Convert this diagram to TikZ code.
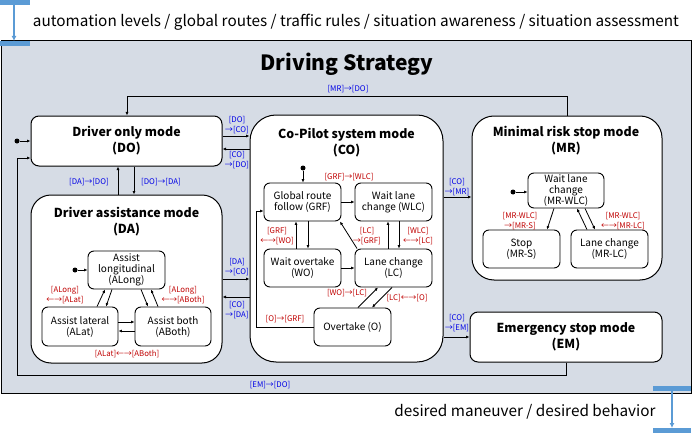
\documentclass[tikz,border=0pt]{standalone}
\usepackage{fontspec}
\setmainfont{Noto Sans CJK KR}
\usetikzlibrary{arrows.meta,calc}
\definecolor{panel}{HTML}{D6DCE5}
\definecolor{lblue}{HTML}{0000E6}
\definecolor{lred}{HTML}{C00000}
\definecolor{barblue}{HTML}{5B9BD5}
\begin{document}
\begin{tikzpicture}[x=1pt,y=-1pt,
  sub/.style={draw, fill=white, line width=0.9pt, rounded corners=6pt, inner sep=0pt, align=center, font=\fontsize{10}{11}\selectfont},
  mode/.style={draw, fill=white, line width=1pt, inner sep=0pt, align=center, font=\bfseries\fontsize{12.4}{16}\selectfont},
  ttl/.style={align=center, inner sep=0pt, font=\bfseries\fontsize{12.4}{16}\selectfont},
  arr/.style={-{Latex[length=3.5pt,width=3pt]}, line width=0.8pt},
  ln/.style={line width=0.8pt},
  bl/.style={text=lblue, inner sep=0pt, align=center, font=\fontsize{7.8}{9.2}\selectfont},
  rl/.style={text=lred, inner sep=0pt, align=center, font=\fontsize{7.8}{9.2}\selectfont},
  dot/.style={circle, fill=black, inner sep=0pt, minimum size=5pt},
  bar/.style={fill=barblue, inner sep=0pt, minimum height=5pt, anchor=north west},
  barline/.style={draw=barblue, line width=1.5pt, -{Latex[length=5pt,width=5pt]}},
  big/.style={inner sep=0pt, font=\fontsize{15.3}{18}\selectfont}]
\useasboundingbox (0,0) rectangle (694,436);

% panel
\node[draw, fill=panel, line width=1pt, inner sep=0pt, minimum width=690pt, minimum height=353pt, anchor=north west] (panel) at (0.5,40) {};
\node[inner sep=0pt, font=\bfseries\fontsize{21}{24}\selectfont] (title) at (347,64) {Driving Strategy};

% I/O bars
\node[big] (intext) at (356,22) {automation levels / global routes / traffic rules / situation awareness / situation assessment};
\node[bar, minimum width=30pt] (bt1) at (0,0) {};
\node[bar, minimum width=30pt] (bt2) at (0,41) {};
\draw[barline] (bt1.south -| 14,0) -- (bt2.north -| 14,0);
\node[big] (outtext) at (525,412) {desired maneuver / desired behavior};
\node[bar, minimum width=38pt] (bb1) at (653,386) {};
\node[bar, minimum width=38pt] (bb2) at (653,428) {};
\draw[barline] (bb1.south -| 672,0) -- (bb2.north -| 672,0);

% modes
\node[mode, rounded corners=8pt, minimum width=191pt, minimum height=50pt] (DO) at (126.5,141) {Driver only mode\\(DO)};
\node[mode, rounded corners=20pt, minimum width=191pt, minimum height=168pt] (DA) at (126.5,279) {};
\node[ttl] (DAt) at (126.5,221.5) {Driver assistance mode\\(DA)};
\node[mode, rounded corners=26pt, minimum width=193pt, minimum height=247pt] (CO) at (346.5,238.5) {};
\node[ttl] (COt) at (346.5,142.5) {Co-Pilot system mode\\(CO)};
\node[mode, rounded corners=22pt, minimum width=190pt, minimum height=164pt] (MR) at (567,198) {};
\node[ttl] (MRt) at (566,141) {Minimal risk stop mode\\(MR)};
\node[mode, rounded corners=8pt, minimum width=192pt, minimum height=50pt] (EM) at (566,337) {Emergency stop mode\\(EM)};

% DA sub-states
\node[sub, minimum width=77pt, minimum height=38pt] (ALong) at (126.5,270) {Assist\\longitudinal\\(ALong)};
\node[sub, minimum width=76pt, minimum height=39pt] (ALat) at (80,326.5) {Assist lateral\\(ALat)};
\node[sub, minimum width=76pt, minimum height=39pt] (ABoth) at (173,326.5) {Assist both\\(ABoth)};

% CO sub-states
\node[sub, minimum width=77pt, minimum height=38pt] (GRF) at (302.5,202) {Global route\\follow (GRF)};
\node[sub, minimum width=77pt, minimum height=38pt] (WLC) at (393.5,202) {Wait lane\\change (WLC)};
\node[sub, minimum width=77pt, minimum height=38pt] (WO) at (302.5,268) {Wait overtake\\(WO)};
\node[sub, minimum width=77pt, minimum height=38pt] (LC) at (393.5,268) {Lane change\\(LC)};
\node[sub, minimum width=77pt, minimum height=38pt] (O) at (352.5,327) {Overtake (O)};

% MR sub-states
\node[sub, minimum width=76pt, minimum height=35pt] (MRWLC) at (566,190.5) {Wait lane\\change\\(MR-WLC)};
\node[sub, minimum width=77pt, minimum height=38pt] (MRS) at (521.5,249) {Stop\\(MR-S)};
\node[sub, minimum width=77pt, minimum height=38pt] (MRLC) at (609.5,249) {Lane change\\(MR-LC)};

% initial dots
\node[dot] (s1) at (17,141) {};
\node[dot] (s2) at (75,270) {};
\node[dot] (s3) at (303,168) {};
\node[dot] (s4) at (513,192) {};
\draw[arr] (s1) -- (DO.west |- s1);
\draw[arr] (s2) -- (ALong.west |- s2);
\draw[arr] (s3) -- (GRF.north -| s3);
\draw[arr] (s4) -- (MRWLC.west |- s4);

% top-level transitions
\draw[arr] (DO.east |- 0,136) -- (CO.west |- 0,136);
\draw[arr] (CO.west |- 0,149) -- (DO.east |- 0,149);
\draw[arr] (DA.north -| 118,0) -- (DO.south -| 118,0);
\draw[arr] (DO.south -| 134,0) -- (DA.north -| 134,0);
\draw[arr] (DA.east |- 0,279) -- (CO.west |- 0,279);
\draw[arr] (CO.west |- 0,297) -- (DA.east |- 0,297);
\draw[arr] (CO.east |- 0,197) -- (MR.west |- 0,197);
\draw[arr] (CO.east |- 0,337) -- (EM.west |- 0,337);
\draw[arr] (MR.north) -- (MR.north |- 0,96) -| (DO.north -| 127,0);
\draw[arr] (EM.south) -- (EM.south |- 0,375) -| (17,158) -- (DO.west |- 0,158);

% DA transitions
\draw[arr] (ALat.north -| 97,0) -- (ALong.south -| 105,0);
\draw[arr] (ALong.south -| 112,0) -- (ALat.north -| 106,0);
\draw[arr] (ALong.south -| 141,0) -- (ABoth.north -| 148,0);
\draw[arr] (ABoth.north -| 158,0) -- (ALong.south -| 151,0);
\draw[arr] (ALat.east |- 0,322) -- (ABoth.west |- 0,322);
\draw[arr] (ABoth.west |- 0,331) -- (ALat.east |- 0,331);

% CO transitions
\draw[arr] (GRF.east) -- (WLC.west);
\draw[arr] (WO.east) -- (LC.west);
\draw[arr] (WO.north -| 296,0) -- (GRF.south -| 296,0);
\draw[arr] (GRF.south -| 308,0) -- (WO.north -| 308,0);
\draw[arr] (LC.north -| 388,0) -- (WLC.south -| 388,0);
\draw[arr] (WLC.south -| 399,0) -- (LC.north -| 399,0);
\draw[arr] ($(LC.north west)+(2.5,0)$) -- ($(GRF.south east)+(-1.5,0)$);
\draw[arr] (O.north -| 358,0) -- (LC.south -| 378,0);
\draw[arr] (LC.south -| 392,0) -- (O.north -| 372,0);
\draw[arr] (O.west) -| (256,211) -- (GRF.west |- 0,211);

% MR transitions
\draw[arr] (MRWLC.south -| 554,0) -- (MRS.north -| 547,0);
\draw[arr] (MRLC.north -| 587,0) -- (MRWLC.south -| 577,0);
\draw[arr] (MRWLC.south -| 585,0) -- (MRLC.north -| 595,0);

% labels
\node[bl] (l1) at (237,125) {[DO]\\→[CO]};
\node[bl] (l2) at (237,160) {[CO]\\→[DO]};
\node[bl] (l3) at (89,182) {[DA]→[DO]};
\node[bl] (l4) at (161,182) {[DO]→[DA]};
\node[bl] (l5) at (348,89) {[MR]→[DO]};
\node[bl] (l6) at (237,267) {[DA]\\→[CO]};
\node[bl] (l7) at (237,310) {[CO]\\→[DA]};
\node[bl] (l8) at (457,187) {[CO]\\→[MR]};
\node[bl] (l9) at (457,323) {[CO]\\→[EM]};
\node[bl] (l10) at (270,385) {[EM]→[DO]};
\node[rl] (r1) at (349,177) {[GRF]→[WLC]};
\node[rl] (r2) at (277,236) {[GRF]\\←→[WO]};
\node[rl] (r3) at (367,236) {[LC]\\→[GRF]};
\node[rl] (r4) at (418,236) {[WLC]\\←→[LC]};
\node[rl] (r5) at (347,293) {[WO]→[LC]};
\node[rl] (r6) at (407,298) {[LC]←→[O]};
\node[rl] (r7) at (285,319) {[O]→[GRF]};
\node[rl] (r8) at (65,295) {[ALong]\\←→[ALat]};
\node[rl] (r9) at (183,295) {[ALong]\\←→[ABoth]};
\node[rl] (r10) at (127,354) {[ALat]←→[ABoth]};
\node[rl] (r11) at (520,221) {[MR-WLC]\\→[MR-S]};
\node[rl] (r12) at (623,221) {[MR-WLC]\\←→[MR-LC]};
\end{tikzpicture}
\end{document}
